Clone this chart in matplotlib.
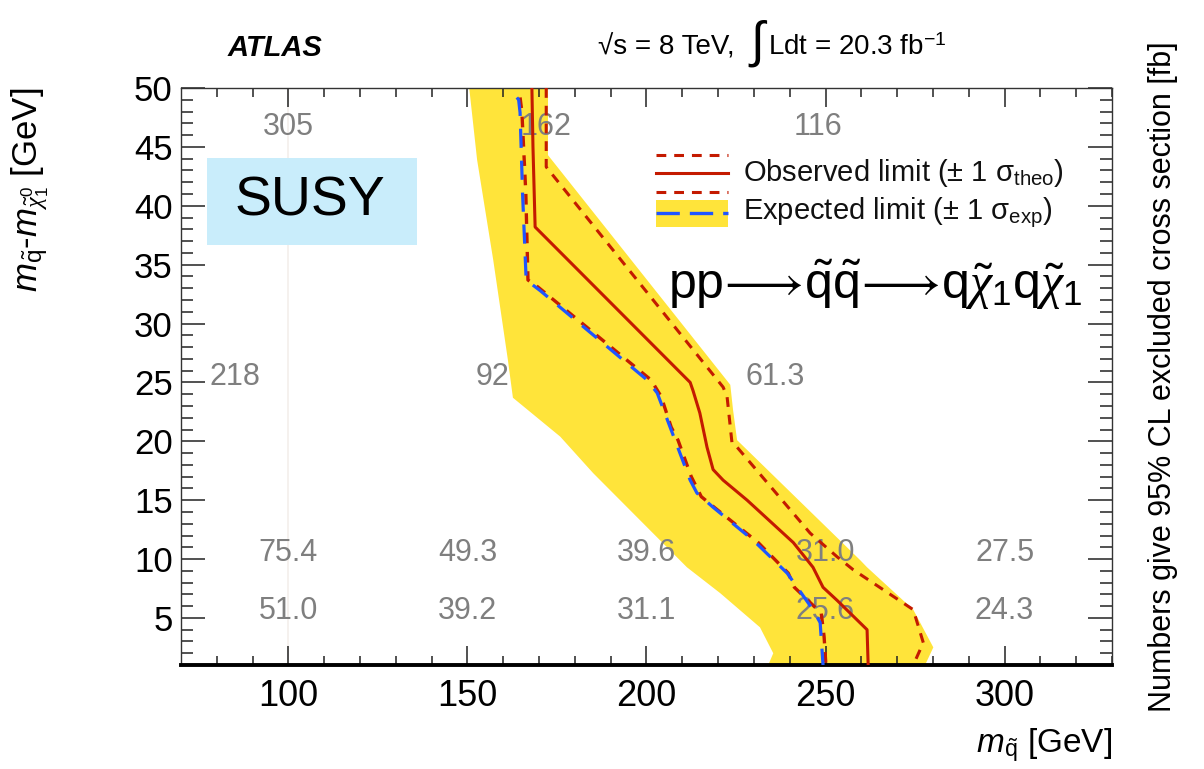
import numpy as np
import matplotlib
matplotlib.use('Agg')
import matplotlib.pyplot as plt
from matplotlib.patches import Rectangle

plt.rcParams['font.family'] = 'Liberation Sans'
plt.rcParams['mathtext.fontset'] = 'custom'
plt.rcParams['mathtext.rm'] = 'Liberation Sans'
plt.rcParams['mathtext.it'] = 'Liberation Serif:italic'
plt.rcParams['mathtext.sf'] = 'Liberation Sans:italic'
plt.rcParams['mathtext.bf'] = 'Liberation Sans:bold'

# expected +-1 sigma band: low-mass edge (top -> bottom), high-mass edge (bottom -> top)
band_lo_x = [150.5, 152.7, 157.2, 161.3, 162.7, 175.9, 185.1, 211.3, 220.6, 231.7, 235.4, 234.0]
band_lo_y = [50.0, 43.9, 35.4, 26.9, 23.7, 20.4, 17.3, 9.3, 7.1, 4.2, 2.0, 1.0]
band_hi_x = [277.8, 280.1, 274.5, 261.6, 259.7, 225.3, 224.2, 223.4, 172.5, 172.5]
band_hi_y = [1.0, 2.5, 5.7, 9.3, 9.9, 20.1, 22.6, 24.8, 44.3, 50.0]

# observed limit and its theory variations
obs_x = [168.0, 168.3, 168.9, 212.2, 213.0, 214.9, 216.9, 218.6, 221.4, 228.1, 241.0, 246.5, 249.3, 253.2, 261.6, 261.9]
obs_y = [50.0, 45.0, 38.2, 25.0, 24.3, 22.4, 19.5, 17.6, 16.7, 15.0, 11.4, 9.3, 7.6, 6.5, 4.0, 1.0]
obs_up_x = [172.0, 172.0, 221.4, 222.5, 223.9, 225.3, 245.7, 253.2, 257.7, 274.5, 277.3, 274.5]
obs_up_y = [50.0, 43.3, 24.6, 23.8, 19.8, 19.5, 12.2, 10.2, 9.1, 5.7, 2.9, 1.0]
obs_dn_x = [164.7, 165.2, 166.3, 166.9, 169.7, 201.3, 204.1, 206.9, 208.8, 212.5, 215.3, 218.9, 231.2, 239.6, 241.3, 248.8, 249.6, 250.1]
obs_dn_y = [49.2, 48.0, 41.1, 33.7, 33.1, 25.2, 23.8, 21.2, 20.1, 17.0, 15.3, 14.4, 11.4, 8.8, 7.6, 5.4, 3.4, 1.0]

# expected limit
exp_x = [163.8, 164.3, 164.7, 165.4, 166.4, 170.3, 200.2, 203.0, 206.6, 212.2, 214.1, 218.6, 229.8, 239.3, 246.5, 248.5, 249.3]
exp_y = [49.2, 49.0, 47.9, 41.0, 33.7, 32.8, 25.2, 24.1, 21.2, 16.7, 15.6, 14.4, 11.6, 8.8, 5.7, 4.6, 1.0]

# excluded cross sections [fb] at grid points
xs_x = [100, 172, 248, 85, 157, 236, 100, 150, 200, 250, 300, 100, 150, 200, 250, 300]
xs_y = [46.7, 46.7, 46.7, 25.5, 25.5, 25.5, 10.5, 10.5, 10.5, 10.5, 10.5, 5.6, 5.6, 5.6, 5.6, 5.6]
xs_lbl = ['305', '162', '116', '218', '92', '61.3',
          '75.4', '49.3', '39.6', '31.0', '27.5',
          '51.0', '39.2', '31.1', '25.6', '24.3']

yellow = '#ffe43a'
red = '#c41a00'
blue = '#1f55ff'
short_dash = (0, (3.2, 2.6))
long_dash = (0, (6, 4))

fig = plt.figure(figsize=(12.04, 7.69), dpi=100)
ax = fig.add_axes([0.1503, 0.1352, 0.7733, 0.7503])

ax.axvline(100, color='#f3efeb', lw=1.2, zorder=0)
ax.fill(np.concatenate([band_lo_x, band_hi_x]), np.concatenate([band_lo_y, band_hi_y]),
        color=yellow, lw=0, zorder=1)

for x, y, s in zip(xs_x, xs_y, xs_lbl):
    ax.text(x, y, s, color='#7f7f7f', fontsize=22, ha='center', va='center', zorder=2)

ax.plot(obs_dn_x, obs_dn_y, color=red, lw=2.4, ls=short_dash, zorder=3)
ax.plot(exp_x, exp_y, color=blue, lw=2.3, ls=long_dash, zorder=4)
ax.plot(obs_up_x, obs_up_y, color=red, lw=2.2, ls=short_dash, zorder=4)
ax.plot(obs_x, obs_y, color=red, lw=2.2, zorder=5)

ax.set_xlim(70, 330)
ax.set_ylim(1, 50)
ax.set_xticks([100, 150, 200, 250, 300])
ax.set_xticks(np.arange(80, 331, 10), minor=True)
ax.set_yticks(np.arange(5, 51, 5))
ax.set_yticks(np.arange(1, 51, 1), minor=True)
ax.tick_params(axis='both', which='both', direction='in', top=True, right=True,
               color='#222222', width=1.1)
ax.tick_params(axis='x', which='major', length=13.5, labelsize=26, pad=10)
ax.tick_params(axis='x', which='minor', length=6.5)
ax.tick_params(axis='y', which='major', length=17, labelsize=25, pad=6)
ax.tick_params(axis='y', which='minor', length=8.5)
for side in ['left', 'top', 'right']:
    ax.spines[side].set_linewidth(1.0)
    ax.spines[side].set_color('#333333')
ax.spines['bottom'].set_linewidth(2.8)
ax.spines['bottom'].set_color('black')

# legend drawn by hand in axes coordinates
tr = ax.transAxes
lx = [0.510, 0.5875]
ax.plot(lx, [0.884, 0.884], color=red, lw=2.2, ls=short_dash, transform=tr, zorder=6)
ax.plot(lx, [0.853, 0.853], color=red, lw=2.2, transform=tr, zorder=6)
ax.plot(lx, [0.820, 0.820], color=red, lw=2.2, ls=short_dash, transform=tr, zorder=6)
ax.fill_between(lx, 0.759, 0.806, color=yellow, lw=0, transform=tr, zorder=6)
ax.plot(lx, [0.783, 0.783], color=blue, lw=2.4, ls=(0, (7, 3)), transform=tr, zorder=7)
ax.text(0.6036, 0.853, r'Observed limit ($\pm$ 1 $\mathrm{\sigma}_{\mathrm{theo}}$)',
        transform=tr, fontsize=21, va='center', ha='left', color='#111111')
ax.text(0.6036, 0.783, r'Expected limit ($\pm$ 1 $\mathrm{\sigma}_{\mathrm{exp}}$)',
        transform=tr, fontsize=21, va='center', ha='left', color='#111111')

# header
fig.text(228 / 1204, 1 - 48 / 769, 'ATLAS', fontsize=21, fontweight='bold', style='italic',
         ha='left', va='center')
fig.text(598 / 1204, 1 - 48 / 769, '\u221as = 8 TeV,', fontsize=20, ha='left', va='center')
fig.text(748 / 1204, 1 - 44 / 769, r'$\int$', fontsize=36, ha='left', va='center')
fig.text(768 / 1204, 1 - 48 / 769, r'Ldt = 20.3 fb$^{-1}$', fontsize=20, ha='left', va='center')

# axis titles
fig.text(30 / 1204, 1 - 88 / 769,
         r'$\mathsf{m}_{\tilde{\mathrm{q}}}$-$\mathsf{m}_{\tilde{\chi}^{0}_{1}}$ [GeV]',
         fontsize=25, rotation=90, ha='center', va='top')
fig.text(1112 / 1204, 1 - 745 / 769, r'$\mathsf{m}_{\tilde{\mathrm{q}}}$ [GeV]',
         fontsize=24, ha='right', va='center')
fig.text(1163 / 1204, 1 - 377 / 769, 'Numbers give 95% CL excluded cross section [fb]',
         fontsize=22, rotation=90, ha='center', va='center')

# annotations
fig.add_artist(Rectangle((207 / 1204, 1 - 245 / 769), 210 / 1204, 87 / 769,
                         transform=fig.transFigure, fc='#c9edfb', ec='none', zorder=1))
fig.text(310 / 1204, 1 - 201 / 769, 'SUSY', fontsize=40, ha='center', va='center', zorder=2)
fig.text(668 / 1204, 1 - 285 / 769,
         r'pp$\!\longrightarrow\!\tilde{\mathrm{q}}\tilde{\mathrm{q}}\!\longrightarrow\!\mathrm{q}\tilde{\chi}_{1}\mathrm{q}\tilde{\chi}_{1}$',
         fontsize=36, ha='left', va='center')

fig.savefig('out.png', dpi=100)
